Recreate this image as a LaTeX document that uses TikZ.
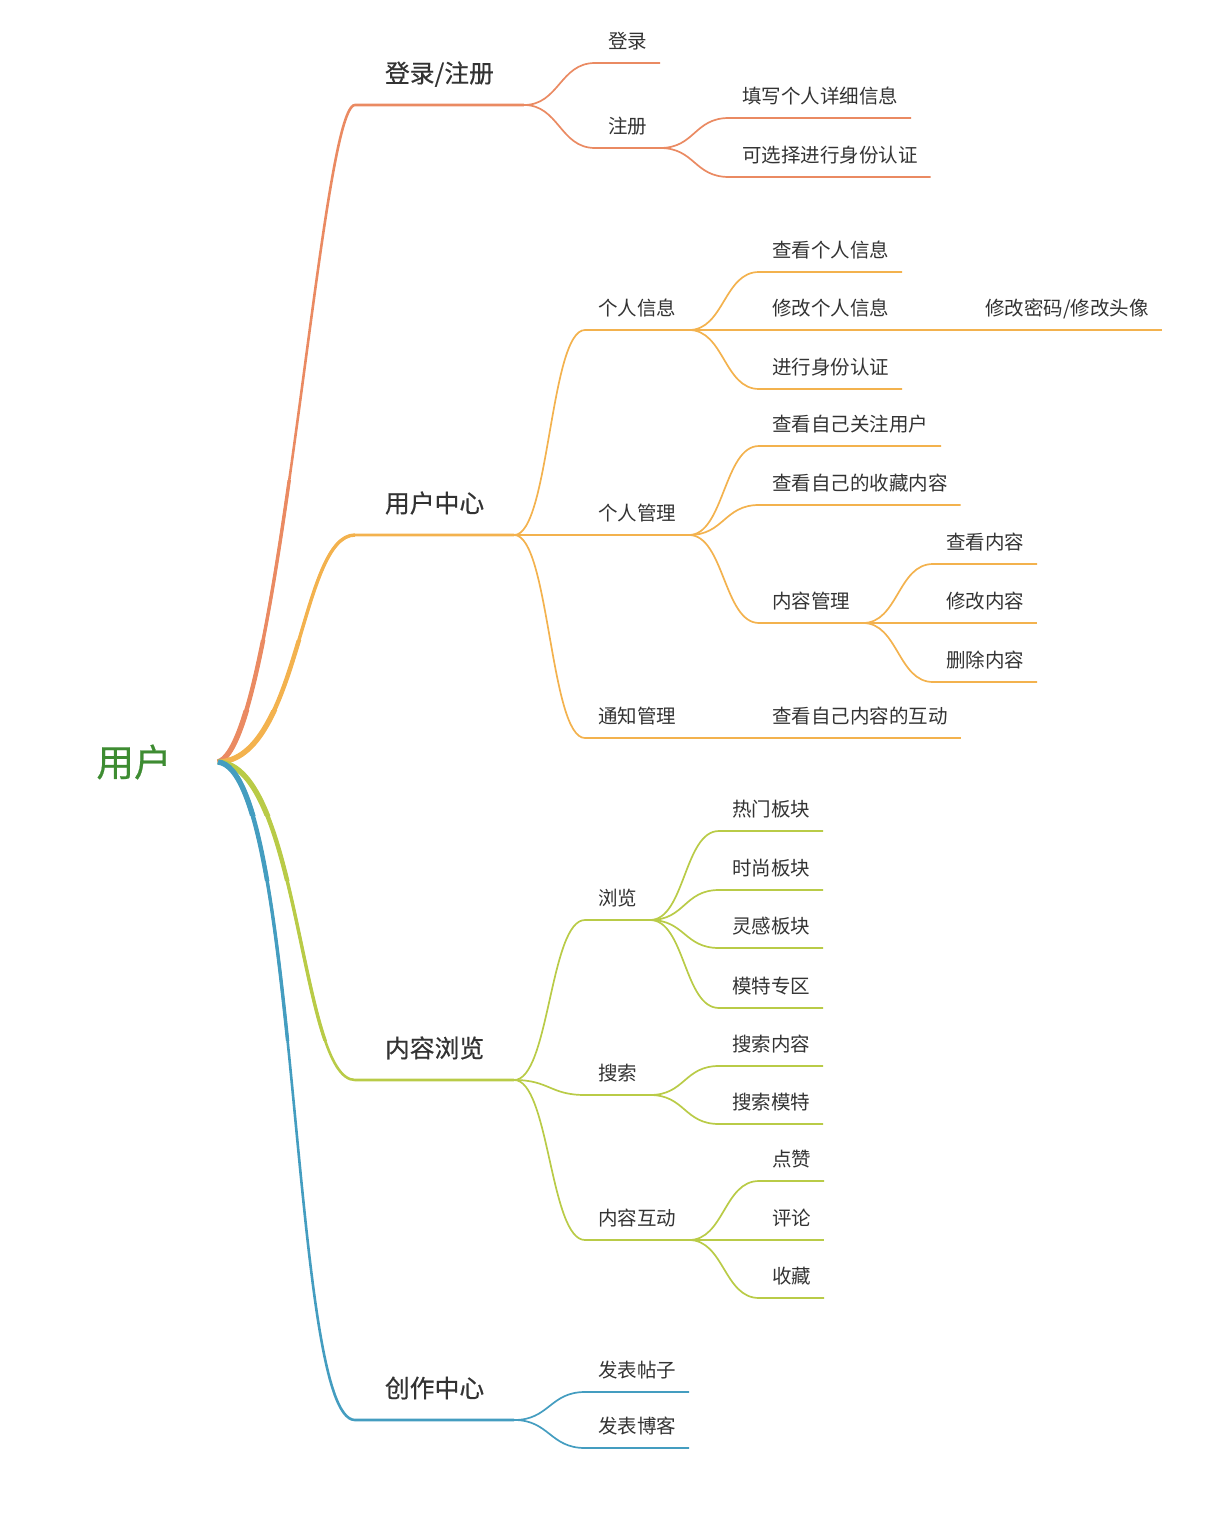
\documentclass[tikz,border=0pt]{standalone}
\usepackage{fontspec}
\setmainfont{Noto Sans CJK SC}
\newfontfamily\cjkmid[FakeBold=0.5]{Noto Sans CJK SC}
\definecolor{cA}{HTML}{EA8A62}
\definecolor{cB}{HTML}{F3B24E}
\definecolor{cC}{HTML}{B9CB47}
\definecolor{cD}{HTML}{449DC0}
\definecolor{rootgreen}{HTML}{3E8C32}
\definecolor{txt}{HTML}{333333}
\tikzset{
  leaf/.style={anchor=south west, inner xsep=6.5pt, inner ysep=7.3pt, text depth=0pt,
    outer sep=0pt, text=txt, font=\fontsize{9.75}{12}\selectfont},
  topic/.style={anchor=south west, inner xsep=15pt, inner ysep=11.3pt, text depth=0pt,
    outer sep=0pt, text=txt, font=\cjkmid\fontsize{12.4}{15}\selectfont},
  root/.style={text=rootgreen, font=\cjkmid\fontsize{18.75}{22}\selectfont},
  link/.style={to path={.. controls +(35,0) and +(-35,0) .. (\tikztotarget)}},
  twig/.style={line width=0.85pt},
  trunk/.style={line width=1.3pt},
}

\begin{document}
\begin{tikzpicture}[x=0.5pt, y=-0.5pt]
    \useasboundingbox (0,0) rectangle (1216,1520);

    \node [root] (u) at (134,762) {用户};
    \coordinate (hub) at (218,762);

    \node [topic] (a) at (355,105) {登录/注册};
    \node [leaf] (a1) at (595,63) {登录};
    \node [leaf] (a2) at (595,148) {注册};
    \node [leaf] (a21) at (729,118) {填写个人详细信息};
    \node [leaf] (a22) at (729,177) {可选择进行身份认证};

    \node [topic] (b) at (355,535) {用户中心};
    \node [leaf] (b1) at (585,330) {个人信息};
    \node [leaf] (b11) at (759,272) {查看个人信息};
    \node [leaf] (b12) at (759,330) {修改个人信息};
    \node [leaf] (b121) at (972,330) {修改密码/修改头像};
    \node [leaf] (b13) at (759,389) {进行身份认证};
    \node [leaf] (b2) at (585,535) {个人管理};
    \node [leaf] (b21) at (759,446) {查看自己关注用户};
    \node [leaf] (b22) at (759,505) {查看自己的收藏内容};
    \node [leaf] (b23) at (759,623) {内容管理};
    \node [leaf] (b231) at (933,564) {查看内容};
    \node [leaf] (b232) at (933,623) {修改内容};
    \node [leaf] (b233) at (933,682) {删除内容};
    \node [leaf] (b3) at (585,738) {通知管理};
    \node [leaf] (b31) at (759,738) {查看自己内容的互动};

    \node [topic] (c) at (355,1080) {内容浏览};
    \node [leaf] (c1) at (585,920) {浏览};
    \node [leaf] (c11) at (719,831) {热门板块};
    \node [leaf] (c12) at (719,890) {时尚板块};
    \node [leaf] (c13) at (719,948) {灵感板块};
    \node [leaf] (c14) at (719,1008) {模特专区};
    \node [leaf] (c2) at (585,1095) {搜索};
    \node [leaf] (c21) at (719,1066) {搜索内容};
    \node [leaf] (c22) at (719,1124) {搜索模特};
    \node [leaf] (c3) at (585,1240) {内容互动};
    \node [leaf] (c31) at (759,1181) {点赞};
    \node [leaf] (c32) at (759,1240) {评论};
    \node [leaf] (c33) at (759,1298) {收藏};

    \node [topic] (d) at (355,1420) {创作中心};
    \node [leaf] (d1) at (585,1392) {发表帖子};
    \node [leaf] (d2) at (585,1448) {发表博客};

    % main branches, thicker near the root
    \draw [cA, trunk] (hub) .. controls +(62,-17) and +(-35,0) .. (a.south west) -- (a.south east);
    \draw [cB, trunk] (hub) .. controls +(82,-2) and +(-55,0) .. (b.south west) -- (b.south east);
    \draw [cC, trunk] (hub) .. controls +(82,3) and +(-55,0) .. (c.south west) -- (c.south east);
    \draw [cD, trunk] (hub) .. controls +(82,8) and +(-65,0) .. (d.south west) -- (d.south east);
    \begin{scope}
      \clip (150,480) rectangle (420,1040);
      \draw [cA, line width=1.7pt] (hub) .. controls +(62,-17) and +(-35,0) .. (a.south west);
      \draw [cB, line width=1.7pt] (hub) .. controls +(82,-2) and +(-55,0) .. (b.south west);
      \draw [cC, line width=1.7pt] (hub) .. controls +(82,3) and +(-55,0) .. (c.south west);
      \draw [cD, line width=1.7pt] (hub) .. controls +(82,8) and +(-65,0) .. (d.south west);
    \end{scope}
    \begin{scope}
      \clip (150,640) rectangle (420,880);
      \draw [cA, line width=2.2pt] (hub) .. controls +(62,-17) and +(-35,0) .. (a.south west);
      \draw [cB, line width=2.2pt] (hub) .. controls +(82,-2) and +(-55,0) .. (b.south west);
      \draw [cC, line width=2.2pt] (hub) .. controls +(82,3) and +(-55,0) .. (c.south west);
      \draw [cD, line width=2.2pt] (hub) .. controls +(82,8) and +(-65,0) .. (d.south west);
    \end{scope}
    \begin{scope}
      \clip (150,710) rectangle (420,815);
      \draw [cA, line width=2.7pt] (hub) .. controls +(62,-17) and +(-35,0) .. (a.south west);
      \draw [cB, line width=2.7pt] (hub) .. controls +(82,-2) and +(-55,0) .. (b.south west);
      \draw [cC, line width=2.7pt] (hub) .. controls +(82,3) and +(-55,0) .. (c.south west);
      \draw [cD, line width=2.7pt] (hub) .. controls +(82,8) and +(-65,0) .. (d.south west);
    \end{scope}

    % login / register
    \draw [cA, twig] (a.south east) to [link] (a1.south west) -- (a1.south east);
    \draw [cA, twig] (a.south east) to [link] (a2.south west) -- (a2.south east);
    \draw [cA, twig] (a2.south east) to [link] (a21.south west) -- (a21.south east);
    \draw [cA, twig] (a2.south east) to [link] (a22.south west) -- (a22.south east);

    % user centre
    \draw [cB, twig] (b.south east) to [link] (b1.south west) -- (b1.south east);
    \draw [cB, twig] (b1.south east) to [link] (b11.south west) -- (b11.south east);
    \draw [cB, twig] (b1.south east) to [link] (b12.south west) -- (b12.south east);
    \draw [cB, twig] (b12.south east) to [link] (b121.south west) -- (b121.south east);
    \draw [cB, twig] (b1.south east) to [link] (b13.south west) -- (b13.south east);
    \draw [cB, twig] (b.south east) to [link] (b2.south west) -- (b2.south east);
    \draw [cB, twig] (b2.south east) to [link] (b21.south west) -- (b21.south east);
    \draw [cB, twig] (b2.south east) to [link] (b22.south west) -- (b22.south east);
    \draw [cB, twig] (b2.south east) to [link] (b23.south west) -- (b23.south east);
    \draw [cB, twig] (b23.south east) to [link] (b231.south west) -- (b231.south east);
    \draw [cB, twig] (b23.south east) to [link] (b232.south west) -- (b232.south east);
    \draw [cB, twig] (b23.south east) to [link] (b233.south west) -- (b233.south east);
    \draw [cB, twig] (b.south east) to [link] (b3.south west) -- (b3.south east);
    \draw [cB, twig] (b3.south east) to [link] (b31.south west) -- (b31.south east);

    % browsing
    \draw [cC, twig] (c.south east) to [link] (c1.south west) -- (c1.south east);
    \draw [cC, twig] (c1.south east) to [link] (c11.south west) -- (c11.south east);
    \draw [cC, twig] (c1.south east) to [link] (c12.south west) -- (c12.south east);
    \draw [cC, twig] (c1.south east) to [link] (c13.south west) -- (c13.south east);
    \draw [cC, twig] (c1.south east) to [link] (c14.south west) -- (c14.south east);
    \draw [cC, twig] (c.south east) to [link] (c2.south west) -- (c2.south east);
    \draw [cC, twig] (c2.south east) to [link] (c21.south west) -- (c21.south east);
    \draw [cC, twig] (c2.south east) to [link] (c22.south west) -- (c22.south east);
    \draw [cC, twig] (c.south east) to [link] (c3.south west) -- (c3.south east);
    \draw [cC, twig] (c3.south east) to [link] (c31.south west) -- (c31.south east);
    \draw [cC, twig] (c3.south east) to [link] (c32.south west) -- (c32.south east);
    \draw [cC, twig] (c3.south east) to [link] (c33.south west) -- (c33.south east);

    % creation
    \draw [cD, twig] (d.south east) to [link] (d1.south west) -- (d1.south east);
    \draw [cD, twig] (d.south east) to [link] (d2.south west) -- (d2.south east);
\end{tikzpicture}
\end{document}
